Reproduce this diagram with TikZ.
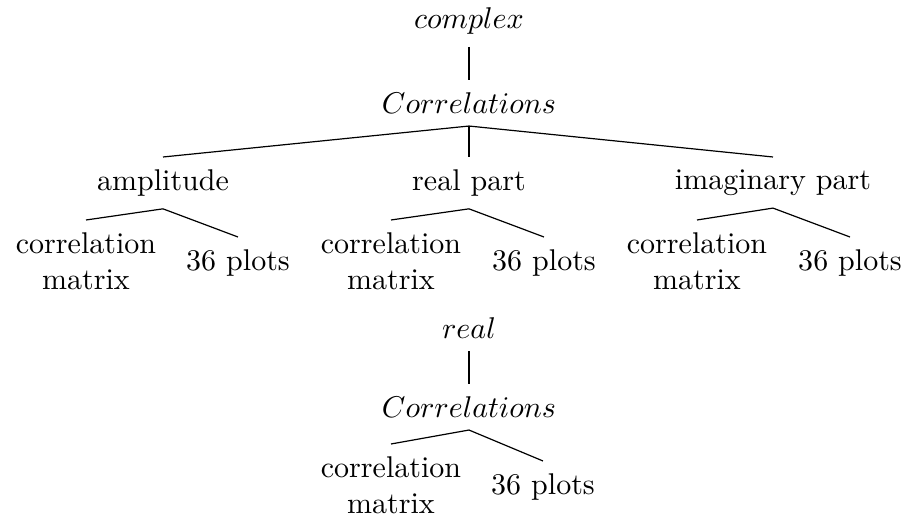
\documentclass[tikz,border=0pt]{standalone}
\usepackage{amsmath}
\usepackage{tikz}
\usetikzlibrary{positioning}
\tikzset{
    treenode/.style={anchor=north, inner sep=4pt, align=center},
    branch/.style={draw=black, line width=0.4pt}
}

\begin{document}
\begin{tikzpicture}[x=0.3333pt, y=-0.3333pt]
    \useasboundingbox (0,0) rectangle (905,518);

    % complex tree
    \node (complex) [treenode] at (469,-5) {$complex$};
    \node (corrC) [treenode] at (469,80) {$Correlations$};
    \node (ampl) [treenode] at (163,157) {amplitude};
    \node (realp) [treenode] at (469,157) {real part};
    \node (imagp) [treenode] at (773,157) {imaginary part};
    \node (amplM) [treenode] at (86,220) {correlation\\matrix};
    \node (amplP) [treenode] at (238,237) {36 plots};
    \node (realM) [treenode] at (391,220) {correlation\\matrix};
    \node (realP) [treenode] at (544,237) {36 plots};
    \node (imagM) [treenode] at (697,220) {correlation\\matrix};
    \node (imagP) [treenode] at (850,237) {36 plots};

    \draw [branch] (complex.south) -- (corrC.north);
    \draw [branch] (corrC.south) -- (ampl.north);
    \draw [branch] (corrC.south) -- (realp.north);
    \draw [branch] (corrC.south) -- (imagp.north);
    \draw [branch] (ampl.south) -- (amplM.north);
    \draw [branch] (ampl.south) -- (amplP.north);
    \draw [branch] (realp.south) -- (realM.north);
    \draw [branch] (realp.south) -- (realP.north);
    \draw [branch] (imagp.south) -- (imagM.north);
    \draw [branch] (imagp.south) -- (imagP.north);

    % real tree
    \node (real) [treenode] at (469,305) {$real$};
    \node (corrR) [treenode] at (469,384) {$Correlations$};
    \node (corrM) [treenode] at (391,444) {correlation\\matrix};
    \node (corrP) [treenode] at (543,461) {36 plots};

    \draw [branch] (real.south) -- (corrR.north);
    \draw [branch] (corrR.south) -- (corrM.north);
    \draw [branch] (corrR.south) -- (corrP.north);
\end{tikzpicture}
\end{document}
